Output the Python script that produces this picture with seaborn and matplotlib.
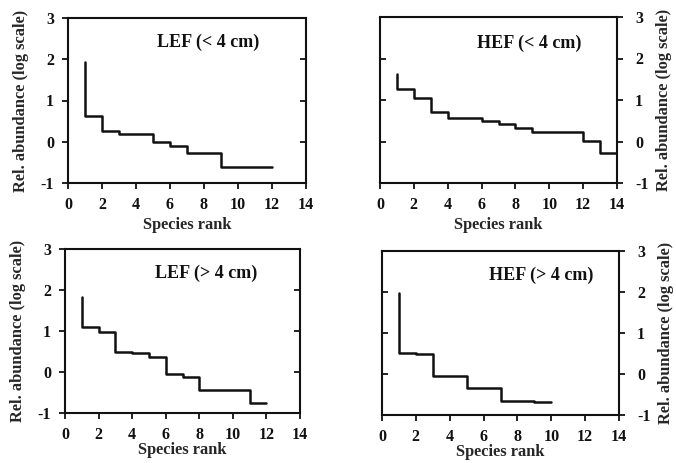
import numpy as np
import matplotlib
matplotlib.use("Agg")
import matplotlib.pyplot as plt
import seaborn as sns
import pandas as pd

# rank-abundance values (log scale)
lef_small_rank = [1, 2, 3, 4, 5, 6, 7, 8, 9, 10, 11, 12]
lef_small = [1.93, 0.63, 0.26, 0.18, 0.18, 0.0, -0.1, -0.28, -0.28, -0.6, -0.6, -0.6]

hef_small_rank = [1, 2, 3, 4, 5, 6, 7, 8, 9, 10, 11, 12, 13, 14]
hef_small = [1.63, 1.26, 1.06, 0.72, 0.56, 0.56, 0.50, 0.41, 0.33, 0.22, 0.22, 0.22, 0.02, -0.28]

lef_large_rank = [1, 2, 3, 4, 5, 6, 7, 8, 9, 10, 11, 12]
lef_large = [1.84, 1.09, 0.97, 0.48, 0.46, 0.36, -0.04, -0.13, -0.43, -0.43, -0.43, -0.75]

hef_large_rank = [1, 2, 3, 4, 5, 6, 7, 8, 9, 10]
hef_large = [1.98, 0.52, 0.49, -0.05, -0.05, -0.35, -0.35, -0.65, -0.65, -0.68]

panel_titles = ["LEF (< 4 cm)", "HEF (< 4 cm)", "LEF (> 4 cm)", "HEF (> 4 cm)"]
x_ticks = [0, 2, 4, 6, 8, 10, 12, 14]
y_ticks = [-1, 0, 1, 2, 3]

sns.set_style("white")
plt.rcParams["font.family"] = ["Liberation Serif", "DejaVu Serif"]
plt.rcParams["font.weight"] = "bold"
plt.rcParams["axes.unicode_minus"] = False

W, H = 676, 463
fig = plt.figure(figsize=(W / 100, H / 100), dpi=100)

# (left, right, top, bottom) in pixels, side of the labelled y axis, title pos, xlabel pad
panels = [
    (lef_small_rank, lef_small, (68, 306, 18, 183), "left", (0.59, 0.85), 3),
    (hef_small_rank, hef_small, (380, 617, 17, 183), "right", (0.63, 0.84), 3),
    (lef_large_rank, lef_large, (65, 300, 249, 413), "left", (0.60, 0.85), -1),
    (hef_large_rank, hef_large, (382, 619, 251, 415), "right", (0.67, 0.85), -1),
]

for (ranks, vals, box, side, tpos, lpad), title in zip(panels, panel_titles):
    l, r, t, b = box
    ax = fig.add_axes([l / W, (H - b) / H, (r - l) / W, (b - t) / H])
    df = pd.DataFrame({"rank": ranks, "abund": vals})
    sns.lineplot(data=df, x="rank", y="abund", ax=ax, color="#111111",
                 linewidth=1.8, drawstyle="steps-pre", estimator=None)
    ax.set_xlim(0, 14)
    ax.set_ylim(-1, 3)
    ax.set_xticks(x_ticks)
    ax.set_yticks(y_ticks)
    for s in ax.spines.values():
        s.set_visible(True)
        s.set_color("#111111")
        s.set_linewidth(1.5)
    ax.tick_params(axis="x", direction="out", length=4, width=1.3,
                   colors="#111111", labelsize=11.5, pad=6, bottom=True)
    ax.set_xlabel("Species rank", fontsize=11.8, fontweight="bold", labelpad=lpad)

    # labelled side: outward ticks; opposite side: inward ticks, no labels
    other = "right" if side == "left" else "left"
    if side == "left":
        ax.tick_params(axis="y", direction="out", length=4, width=1.3,
                       colors="#111111", labelsize=11.5, pad=6, left=True)
    else:
        ax.yaxis.tick_right()
        ax.yaxis.set_label_position("right")
        ax.tick_params(axis="y", direction="out", length=4, width=1.3,
                       colors="#111111", labelsize=11.5, pad=9, right=True, left=False)
    sec = ax.secondary_yaxis(other)
    sec.set_yticks([0, 1, 2])
    sec.tick_params(direction="in", length=4, width=1.3, colors="#111111",
                    labelleft=False, labelright=False)
    sec.spines[other].set_visible(False)

    ax.set_ylabel("Rel. abundance (log scale)", fontsize=11.8, fontweight="bold",
                  labelpad=8 if side == "left" else 5)
    ax.text(tpos[0], tpos[1], title, transform=ax.transAxes, ha="center",
            va="center", fontsize=13, fontweight="bold", color="#111111")

fig.savefig("out.png", dpi=100, facecolor="white")
